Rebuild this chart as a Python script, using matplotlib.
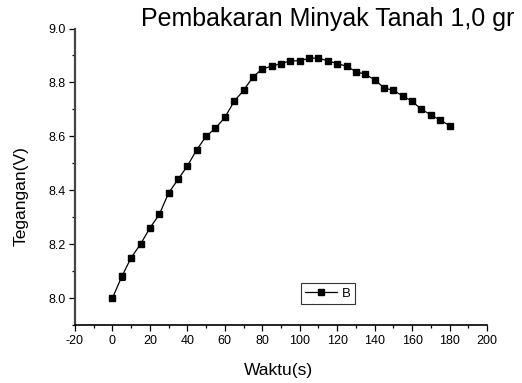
import numpy as np
import matplotlib
matplotlib.use('Agg')
import matplotlib.pyplot as plt
from matplotlib.ticker import MultipleLocator

plt.rcParams['font.family'] = ['Liberation Sans', 'DejaVu Sans']
plt.rcParams['axes.unicode_minus'] = False

# waktu (s) and tegangan (V)
waktu = [0, 5, 10, 15, 20, 25, 30, 35, 40, 45, 50, 55, 60, 65, 70, 75, 80, 85,
         90, 95, 100, 105, 110, 115, 120, 125, 130, 135, 140, 145, 150, 155,
         160, 165, 170, 175, 180]
tegangan = [8.00, 8.08, 8.15, 8.20, 8.26, 8.31, 8.39, 8.44, 8.49, 8.55, 8.60,
            8.63, 8.67, 8.73, 8.77, 8.82, 8.85, 8.86, 8.87, 8.88, 8.88, 8.89,
            8.89, 8.88, 8.87, 8.86, 8.84, 8.83, 8.81, 8.78, 8.77, 8.75, 8.73,
            8.70, 8.68, 8.66, 8.64]
# small error bars seen on a few early points
galat = [0, 0.012, 0.01, 0, 0, 0, 0.012, 0, 0, 0, 0, 0, 0, 0, 0, 0, 0, 0,
         0, 0, 0, 0, 0, 0, 0, 0, 0, 0, 0, 0, 0, 0, 0, 0, 0, 0, 0]

fig = plt.figure(figsize=(5.22, 3.83), dpi=100)
ax = fig.add_axes([75/522, 1 - 325/383, 412/522, 296.5/383])

ax.errorbar(waktu, tegangan, yerr=galat, fmt='none', ecolor='black',
            elinewidth=0.8, capsize=2.5, capthick=0.8)
ax.plot(waktu, tegangan, color='black', marker='s', markersize=5,
        linewidth=0.9, label='B')

ax.set_xlim(-20, 200)
ax.set_ylim(7.9, 9.0)
ax.xaxis.set_major_locator(MultipleLocator(20))
ax.xaxis.set_minor_locator(MultipleLocator(10))
ax.yaxis.set_minor_locator(MultipleLocator(0.1))
ax.set_yticks([8.0, 8.2, 8.4, 8.6, 8.8, 9.0])
ax.set_yticklabels(['8.0', '8.2', '8.4', '8.6', '8.8', '9.0'])

for s in ['top', 'right']:
    ax.spines[s].set_visible(False)
ax.spines['left'].set_linewidth(1.6)
ax.spines['left'].set_color('#444444')
ax.spines['bottom'].set_linewidth(1.2)
ax.tick_params(which='major', direction='out', length=4, width=0.9, labelsize=9, pad=3)
ax.tick_params(which='minor', direction='out', length=2.5, width=0.9)

ax.set_xlabel('Waktu(s)', fontsize=12.5)
ax.set_ylabel('Tegangan(V)', fontsize=12.5)
ax.xaxis.set_label_coords(0.493, -0.128)
ax.yaxis.set_label_coords(-0.112, 0.435)

fig.text(141/522, 1 - 26/383, 'Pembakaran Minyak Tanah 1,0 gr', fontsize=18,
         ha='left', va='baseline')

leg = ax.legend(loc='center', bbox_to_anchor=(0.614, 0.106), fontsize=9.5,
                fancybox=False, frameon=True, handlelength=2.4,
                borderpad=0.3, handletextpad=0.4)
leg.get_frame().set_edgecolor('black')
leg.get_frame().set_linewidth(0.8)

fig.savefig('out.png', dpi=100)
